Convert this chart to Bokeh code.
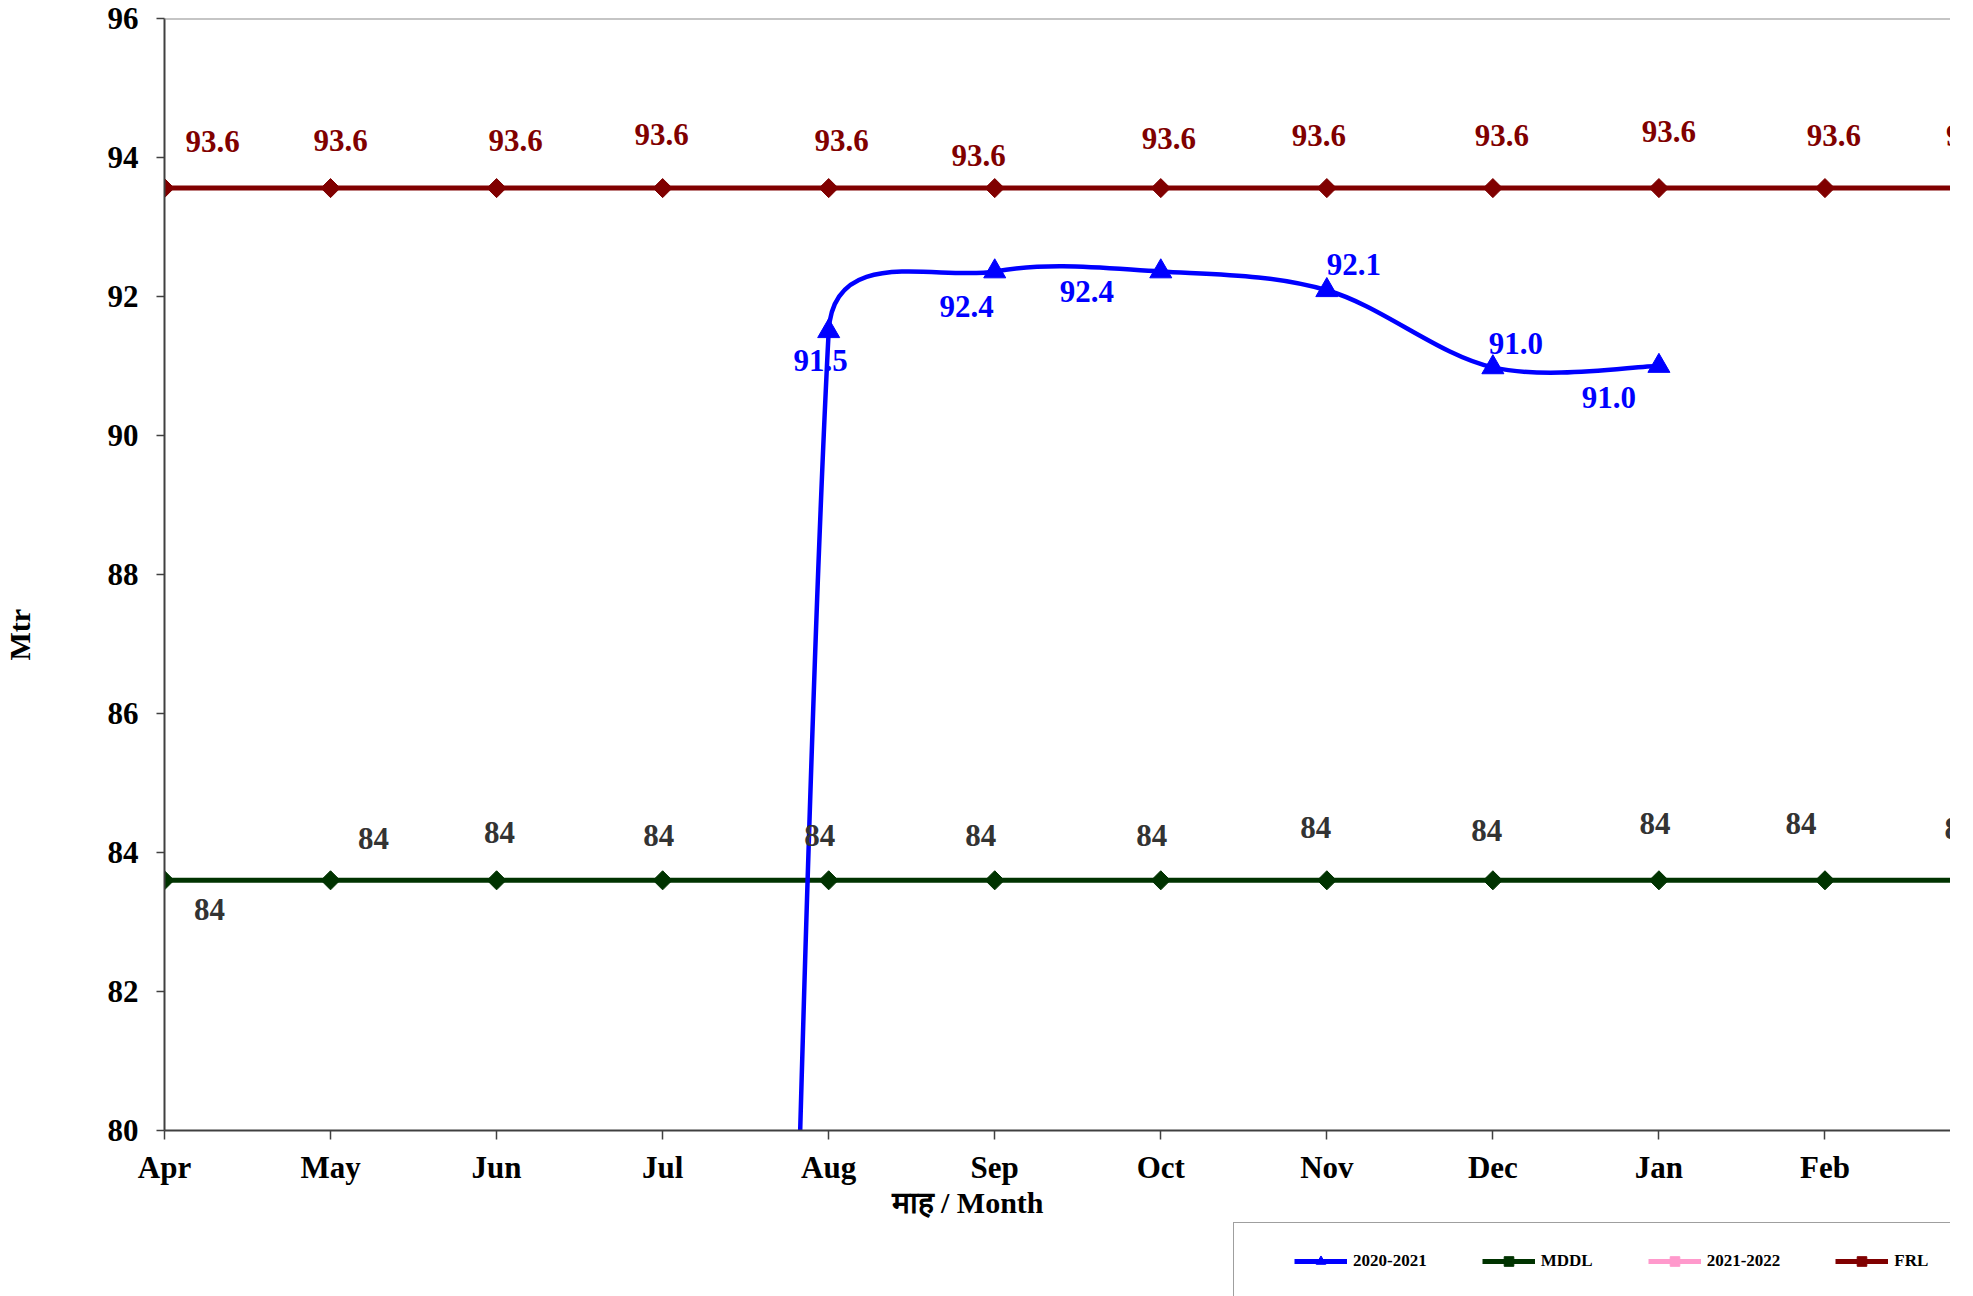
import math
from bokeh.plotting import figure
from bokeh.layouts import column
from bokeh.models import (Range1d, FixedTicker, ColumnDataSource, LabelSet, Title,
                          Legend, LegendItem, Span)
from bokeh.embed import file_html
from bokeh.resources import INLINE
from bokeh.core.properties import value

# ---------------- data ----------------
months = ["Apr", "May", "Jun", "Jul", "Aug", "Sep", "Oct", "Nov", "Dec", "Jan", "Feb", "Mar"]
level_2020_21 = [0, 0, 0, 0, 91.5, 92.36, 92.36, 92.09, 90.98, 91.0, None, None]
mddl = [83.6, 83.6, 83.6, 83.6, 83.6, 83.6, 83.6, 83.6, 83.6, 83.6, 83.6, 83.6]
frl = [93.56, 93.56, 93.56, 93.56, 93.56, 93.56, 93.56, 93.56, 93.56, 93.56, 93.56, 93.56]
level_2021_22 = []          # no readings yet (legend entry only)
y_ticks = [80, 82, 84, 86, 88, 90, 92, 94, 96]
y_title = "Mtr"
x_title = "माह / Month"
series_names = ["2020-2021", "MDDL", "2021-2022", "FRL"]

# ---------------- layout / style ----------------
W = 1950
H_MAIN, H_LEG = 1222, 74
B_LEFT, B_TOP, B_BOTTOM, B_RIGHT = 164, 18, 92, 0
X_START, X_END = 0, 10.756
Y_START, Y_END = 80, 96
FRAME_W = W - B_LEFT - B_RIGHT
FRAME_H = H_MAIN - B_TOP - B_BOTTOM
PX_X = FRAME_W / (X_END - X_START)
PX_Y = FRAME_H / (Y_END - Y_START)

FONT = "Liberation Serif"
BLUE = "#0000FF"
GREEN = "#003300"
RED = "#800000"
PINK = "#FF99CC"

# manual data-label offsets (screen px, dx right, dy up) as in the original
frl_off_x = [48, 10, 19, -1, 13, -16, 8, -8, 9, 10, 9, -18]
frl_off_y = [47, 48, 48, 54, 48, 33, 50, 53, 53, 57, 53, 53]
mddl_off_x = [45, 43, 3, -4, -9, -14, -9, -11, -6, -4, -24, -31]
mddl_off_y = [-29, 42, 48, 45, 45, 45, 45, 53, 50, 57, 57, 52]
blue_off_x = {4: -8, 5: -28, 6: -74, 7: 27, 8: 23, 9: -50}
blue_off_y = {4: -29, 5: -35, 6: -20, 7: 26, 8: 24, 9: -31}

p = figure(width=W, height=H_MAIN,
           x_range=Range1d(X_START, X_END), y_range=Range1d(Y_START, Y_END),
           output_backend="svg", toolbar_location=None,
           min_border_left=B_LEFT, min_border_top=B_TOP,
           min_border_bottom=B_BOTTOM, min_border_right=B_RIGHT)
p.outline_line_color = None
p.xgrid.grid_line_color = None
p.ygrid.grid_line_color = None
p.background_fill_color = "white"
p.border_fill_color = "white"

# axes
xi = list(range(len(months)))
p.xaxis.ticker = FixedTicker(ticks=xi)
p.xaxis.major_label_overrides = {i: m for i, m in enumerate(months)}
p.yaxis.ticker = FixedTicker(ticks=y_ticks)
for ax in (p.xaxis[0], p.yaxis[0]):
    ax.axis_line_color = "#404040"
    ax.axis_line_width = 2
    ax.major_tick_line_color = "#404040"
    ax.major_tick_line_width = 1.5
    ax.major_tick_in = 0
    ax.minor_tick_line_color = None
    ax.major_label_text_font = FONT
    ax.major_label_text_font_style = "bold"
    ax.major_label_text_font_size = "31px"
    ax.major_label_text_color = "black"
p.xaxis.major_tick_out = 9
p.yaxis.major_tick_out = 8
p.xaxis.major_label_standoff = 10
p.yaxis.major_label_standoff = 18

p.add_layout(Span(location=Y_END, dimension="width", line_color="#8c8c8c", line_width=2))

# axis titles (off-centre, as in the original)
p.add_layout(Title(text=x_title, align="left", offset=727, standoff=-7,
                   text_font=FONT, text_font_style="bold", text_font_size="30px",
                   text_color="black"), "below")
# spacer between the y axis and its title, pushing the title to the page edge
p.add_layout(Title(text=" ", standoff=64, text_font_size="1px"), "left")
p.add_layout(Title(text=y_title, align="left", offset=470, standoff=0, vertical_align="top",
                   text_font=FONT, text_font_style="bold", text_font_size="30px",
                   text_color="black"), "left")

# ---------------- series ----------------
p.line(xi, mddl, line_color=GREEN, line_width=5)
p.scatter(xi, mddl, marker="square", angle=math.pi / 4, size=13.5,
          fill_color=GREEN, line_color=GREEN)
p.line(xi, frl, line_color=RED, line_width=5)
p.scatter(xi, frl, marker="square", angle=math.pi / 4, size=13.5,
          fill_color=RED, line_color=RED)

# 2020-2021 smoothed line (cubic bezier segments computed in screen space)
pts = [(i, v) for i, v in enumerate(level_2020_21) if v is not None]


def to_px(pt):
    return (pt[0] * PX_X, pt[1] * PX_Y)


def to_data(q):
    return (q[0] / PX_X, q[1] / PX_Y)


def limit(t, d):
    L = math.hypot(*t)
    if L > d / 2:
        return (t[0] * d / 2 / L, t[1] * d / 2 / L)
    return t


seg = dict(x0=[], y0=[], x1=[], y1=[], cx0=[], cy0=[], cx1=[], cy1=[])
for k in range(len(pts) - 1):
    p0 = to_px(pts[k - 1] if k > 0 else pts[k])
    p1 = to_px(pts[k])
    p2 = to_px(pts[k + 1])
    p3 = to_px(pts[k + 2] if k + 2 < len(pts) else pts[k + 1])
    d12 = math.hypot(p2[0] - p1[0], p2[1] - p1[1])
    t1 = limit(((p2[0] - p0[0]) / 6, (p2[1] - p0[1]) / 6), d12)
    t2 = limit(((p3[0] - p1[0]) / 6, (p3[1] - p1[1]) / 6), d12)
    c1 = to_data((p1[0] + t1[0], p1[1] + t1[1]))
    c2 = to_data((p2[0] - t2[0], p2[1] - t2[1]))
    seg["x0"].append(pts[k][0]); seg["y0"].append(pts[k][1])
    seg["x1"].append(pts[k + 1][0]); seg["y1"].append(pts[k + 1][1])
    seg["cx0"].append(c1[0]); seg["cy0"].append(c1[1])
    seg["cx1"].append(c2[0]); seg["cy1"].append(c2[1])

p.bezier(x0="x0", y0="y0", x1="x1", y1="y1", cx0="cx0", cy0="cy0", cx1="cx1", cy1="cy1",
         source=ColumnDataSource(seg), line_color=BLUE, line_width=4.5)
p.scatter([q[0] for q in pts], [q[1] for q in pts], marker="triangle",
          size=22, fill_color=BLUE, line_color=BLUE)


# ---------------- data labels ----------------
def add_labels(xs, ys, texts, dx, dy, color):
    src = ColumnDataSource(dict(x=xs, y=ys, t=texts, dx=dx, dy=dy))
    p.add_layout(LabelSet(x="x", y="y", text="t", x_offset="dx", y_offset="dy", source=src,
                          text_font=value(FONT), text_font_style="bold",
                          text_font_size="31px", text_color=color,
                          text_align="center", text_baseline="middle"))


add_labels(xi, frl, [f"{v:.1f}" for v in frl], frl_off_x, frl_off_y, RED)
add_labels(xi, mddl, [f"{v:.0f}" for v in mddl], mddl_off_x, mddl_off_y, "#333333")
bl = [i for i, v in enumerate(level_2020_21) if v is not None and v >= Y_START]
add_labels(bl, [level_2020_21[i] for i in bl], [f"{level_2020_21[i]:.1f}" for i in bl],
           [blue_off_x[i] for i in bl], [blue_off_y[i] for i in bl], BLUE)

# ---------------- legend strip (separate figure, box runs off the page) ----------------
pl = figure(width=W, height=H_LEG, x_range=Range1d(0, 1), y_range=Range1d(0, 1),
            output_backend="svg", toolbar_location=None, x_axis_type=None, y_axis_type=None,
            min_border_left=0, min_border_right=0, min_border_top=0, min_border_bottom=0)
pl.outline_line_color = None
pl.xgrid.grid_line_color = None
pl.ygrid.grid_line_color = None
pl.border_fill_color = "white"

# legend proxies: one point each, placed outside the visible range
PX, PY = [-5], [-5]
lg = [
    (pl.line(PX * 2, PY * 2, line_color=BLUE, line_width=5),
     pl.scatter(PX, PY, marker="triangle", fill_color=BLUE, line_color=BLUE)),
    (pl.line(PX * 2, PY * 2, line_color=GREEN, line_width=5),
     pl.scatter(PX, PY, marker="square", angle=math.pi / 4, fill_color=GREEN, line_color=GREEN)),
    (pl.line(PX * 2, PY * 2, line_color=PINK, line_width=5),
     pl.scatter(PX, PY, marker="square", fill_color=PINK, line_color=PINK)),
    (pl.line(PX * 2, PY * 2, line_color=RED, line_width=5),
     pl.scatter(PX, PY, marker="square", angle=math.pi / 4, fill_color=RED, line_color=RED)),
]
legend = Legend(items=[LegendItem(label=n, renderers=list(r)) for n, r in zip(series_names, lg)],
                orientation="horizontal", location=(1233 - B_LEFT, -4),
                padding=26, spacing=55, glyph_width=53, glyph_height=24, label_height=24,
                label_standoff=6, label_text_font=FONT, label_text_font_style="bold",
                label_text_font_size="17px", label_text_color="black",
                border_line_color="#404040", border_line_width=1.5,
                background_fill_color="white", background_fill_alpha=1.0,
                title=" ", title_location="left", title_text_font_size="1px",
                title_standoff=33)
pl.add_layout(legend, "center")

page = column(p, pl, spacing=0)
open("out.html", "w").write(file_html(page, INLINE))
